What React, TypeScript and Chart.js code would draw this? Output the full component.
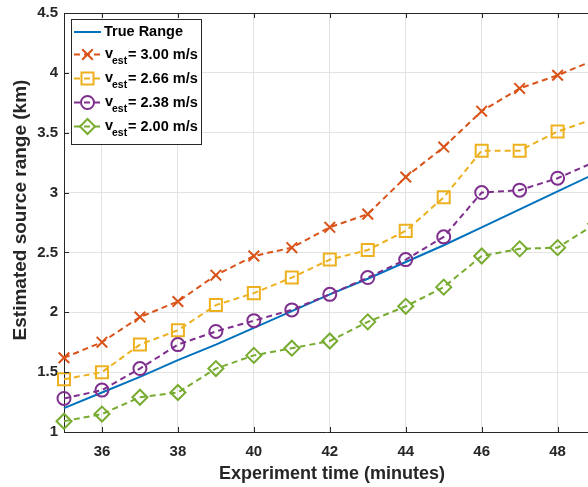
import React, { useEffect, useRef } from 'react';
import { Chart, registerables } from 'chart.js';

Chart.register(...registerables);

const minutes = [35, 36, 37, 38, 39, 40, 41, 42, 43, 44, 45, 46, 47, 48, 49];
const trueRange = [1.20, 1.33, 1.46, 1.60, 1.73, 1.87, 2.01, 2.15, 2.28, 2.42, 2.56, 2.71, 2.86, 3.01, 3.16];
const v300 = [1.62, 1.75, 1.96, 2.09, 2.31, 2.47, 2.54, 2.71, 2.82, 3.13, 3.38, 3.68, 3.87, 3.98, 4.11];
const v266 = [1.44, 1.50, 1.73, 1.85, 2.06, 2.16, 2.29, 2.44, 2.52, 2.68, 2.96, 3.35, 3.35, 3.51, 3.62];
const v238 = [1.28, 1.35, 1.53, 1.73, 1.84, 1.93, 2.02, 2.15, 2.29, 2.44, 2.63, 3.00, 3.02, 3.12, 3.26];
const v200 = [1.09, 1.15, 1.29, 1.33, 1.53, 1.64, 1.70, 1.76, 1.92, 2.05, 2.21, 2.47, 2.53, 2.54, 2.74];

const xTicks = [36, 38, 40, 42, 44, 46, 48];
const yTicks = [1, 1.5, 2, 2.5, 3, 3.5, 4, 4.5];

const legendLabels = ['True Range', '3.00 m/s', '2.66 m/s', '2.38 m/s', '2.00 m/s'];
const xTitle = 'Experiment time (minutes)';
const yTitle = 'Estimated source range (km)';

const BLUE = '#0072BD';
const ORANGE = '#D95319';
const YELLOW = '#EDB120';
const PURPLE = '#7E2F8E';
const GREEN = '#77AC30';
const DARK = '#262626';
const FONT = '"Liberation Sans", Arial, sans-serif';

type Style = { color: string; point: any; radius: number; dashed: boolean };
const styles: Style[] = [
  { color: BLUE, point: false, radius: 0, dashed: false },
  { color: ORANGE, point: 'crossRot', radius: 7.5, dashed: true },
  { color: YELLOW, point: 'rect', radius: 8.5, dashed: true },
  { color: PURPLE, point: 'circle', radius: 6.5, dashed: true },
  { color: GREEN, point: 'rectRot', radius: 7.5, dashed: true },
];
const seriesValues = [trueRange, v300, v266, v238, v200];

function drawMarker(ctx: CanvasRenderingContext2D, kind: string, x: number, y: number, r: number) {
  ctx.beginPath();
  if (kind === 'crossRot') {
    const d = r * Math.SQRT1_2;
    ctx.moveTo(x - d, y - d); ctx.lineTo(x + d, y + d);
    ctx.moveTo(x - d, y + d); ctx.lineTo(x + d, y - d);
  } else if (kind === 'rect') {
    const d = r * Math.SQRT1_2;
    ctx.rect(x - d, y - d, 2 * d, 2 * d);
  } else if (kind === 'circle') {
    ctx.arc(x, y, r, 0, Math.PI * 2);
  } else if (kind === 'rectRot') {
    ctx.moveTo(x - r, y); ctx.lineTo(x, y - r); ctx.lineTo(x + r, y); ctx.lineTo(x, y + r); ctx.closePath();
  }
  ctx.stroke();
}

const framePlugin = {
  id: 'frameAndLegend',
  afterDraw(chart: any) {
    const { ctx, chartArea } = chart;
    const { left, right, top, bottom } = chartArea;
    const xs = chart.scales.x;
    const ys = chart.scales.y;
    ctx.save();
    ctx.strokeStyle = DARK;
    ctx.lineWidth = 1;
    ctx.setLineDash([]);
    ctx.beginPath();
    ctx.moveTo(left, Math.round(top) + 0.5);
    ctx.lineTo(right, Math.round(top) + 0.5);
    for (const t of xTicks) {
      const px = Math.round(xs.getPixelForValue(t)) + 0.5;
      ctx.moveTo(px, bottom); ctx.lineTo(px, bottom - 5);
      ctx.moveTo(px, top); ctx.lineTo(px, top + 5);
    }
    for (const t of yTicks) {
      const py = Math.round(ys.getPixelForValue(t)) + 0.5;
      ctx.moveTo(left, py); ctx.lineTo(left + 5, py);
    }
    ctx.stroke();

    // axis titles (MATLAB centres the x label on the full axis, which runs past the canvas edge)
    ctx.fillStyle = DARK;
    ctx.textAlign = 'center';
    ctx.textBaseline = 'middle';
    ctx.font = `bold 18px ${FONT}`;
    ctx.fillText(xTitle, 332, 474);
    ctx.save();
    ctx.translate(20.5, 210);
    ctx.rotate(-Math.PI / 2);
    ctx.font = `bold 19px ${FONT}`;
    ctx.fillText(yTitle, 0, 0);
    ctx.restore();

    // legend
    const bx = 71.5, by = 19.5, bw = 130, bh = 125;
    ctx.fillStyle = '#ffffff';
    ctx.fillRect(bx, by, bw, bh);
    ctx.strokeStyle = DARK;
    ctx.lineWidth = 1;
    ctx.strokeRect(bx, by, bw, bh);
    const rowsY = [32, 54.5, 78.5, 102.5, 126.5];
    for (let i = 0; i < styles.length; i++) {
      const s = styles[i];
      const cy = rowsY[i];
      ctx.strokeStyle = s.color;
      ctx.lineWidth = 2;
      ctx.setLineDash(s.dashed ? [6, 4] : []);
      ctx.beginPath();
      ctx.moveTo(74, cy);
      ctx.lineTo(101, cy);
      ctx.stroke();
      ctx.setLineDash([]);
      if (s.point) drawMarker(ctx, s.point, 87.5, cy, s.radius);
      ctx.fillStyle = '#000000';
      ctx.textBaseline = 'middle';
      ctx.textAlign = 'left';
      if (i === 0) {
        ctx.font = `bold 14.5px ${FONT}`;
        ctx.fillText(legendLabels[0], 104, cy);
      } else {
        ctx.font = `bold 14.5px ${FONT}`;
        ctx.fillText('v', 105, cy - 1);
        ctx.font = `bold 10.5px ${FONT}`;
        ctx.fillText('est', 112, cy + 7);
        ctx.font = `bold 14.5px ${FONT}`;
        ctx.fillText('= ' + legendLabels[i], 128, cy);
      }
    }
    ctx.restore();
  },
};

export default function App() {
  const ref = useRef<HTMLCanvasElement>(null);
  useEffect(() => {
    document.body.style.margin = '0';
    const canvas = ref.current;
    if (!canvas) return;
    const datasets = styles.map((s, i) => ({
      label: legendLabels[i],
      data: minutes.map((m, j) => ({ x: m, y: seriesValues[i][j] })),
      borderColor: s.color,
      backgroundColor: s.color,
      borderWidth: 2,
      borderDash: s.dashed ? [6, 4] : [],
      pointStyle: s.point,
      pointRadius: s.radius,
      pointBorderWidth: 2,
      pointBorderColor: s.color,
      pointBackgroundColor: 'rgba(0,0,0,0)',
      tension: 0,
      clip: false,
      order: i === 0 ? 10 : 5 - i,
    }));
    const chart = new Chart(canvas, {
      type: 'line',
      data: { datasets },
      options: {
        animation: false,
        responsive: false,
        devicePixelRatio: 1,
        layout: { autoPadding: false, padding: { top: 13, right: 0, left: 0, bottom: 0 } },
        plugins: { legend: { display: false }, tooltip: { enabled: false } },
        scales: {
          x: {
            type: 'linear',
            min: 35,
            max: 48.8,
            afterBuildTicks: (scale: any) => { scale.ticks = xTicks.map((v) => ({ value: v })); },
            afterFit: (scale: any) => {
              scale.height = 55;
              scale.paddingLeft = 0;
              scale.paddingRight = 0;
            },
            grid: { color: '#e3e3e3', drawTicks: false },
            border: { display: true, color: DARK, width: 1 },
            ticks: {
              padding: 11,
              color: DARK,
              font: { family: FONT, size: 15, weight: 'bold' },
              maxRotation: 0,
              callback: (v: any) => String(v),
            },
            title: { display: false },
          },
          y: {
            type: 'linear',
            min: 1,
            max: 4.5,
            afterBuildTicks: (scale: any) => { scale.ticks = yTicks.map((v) => ({ value: v })); },
            afterFit: (scale: any) => {
              scale.width = 64;
              scale.paddingTop = 0;
              scale.paddingBottom = 0;
            },
            grid: { color: '#e3e3e3', drawTicks: false },
            border: { display: true, color: DARK, width: 1 },
            ticks: {
              padding: 6,
              color: DARK,
              font: { family: FONT, size: 15, weight: 'bold' },
              callback: (v: any) => String(v),
            },
            title: { display: false },
          },
        },
      },
      plugins: [framePlugin],
    });
    return () => chart.destroy();
  }, []);
  return (
    <div style={{ width: 588, height: 487 }}>
      <canvas ref={ref} width={588} height={487} style={{ display: 'block' }} />
    </div>
  );
}
